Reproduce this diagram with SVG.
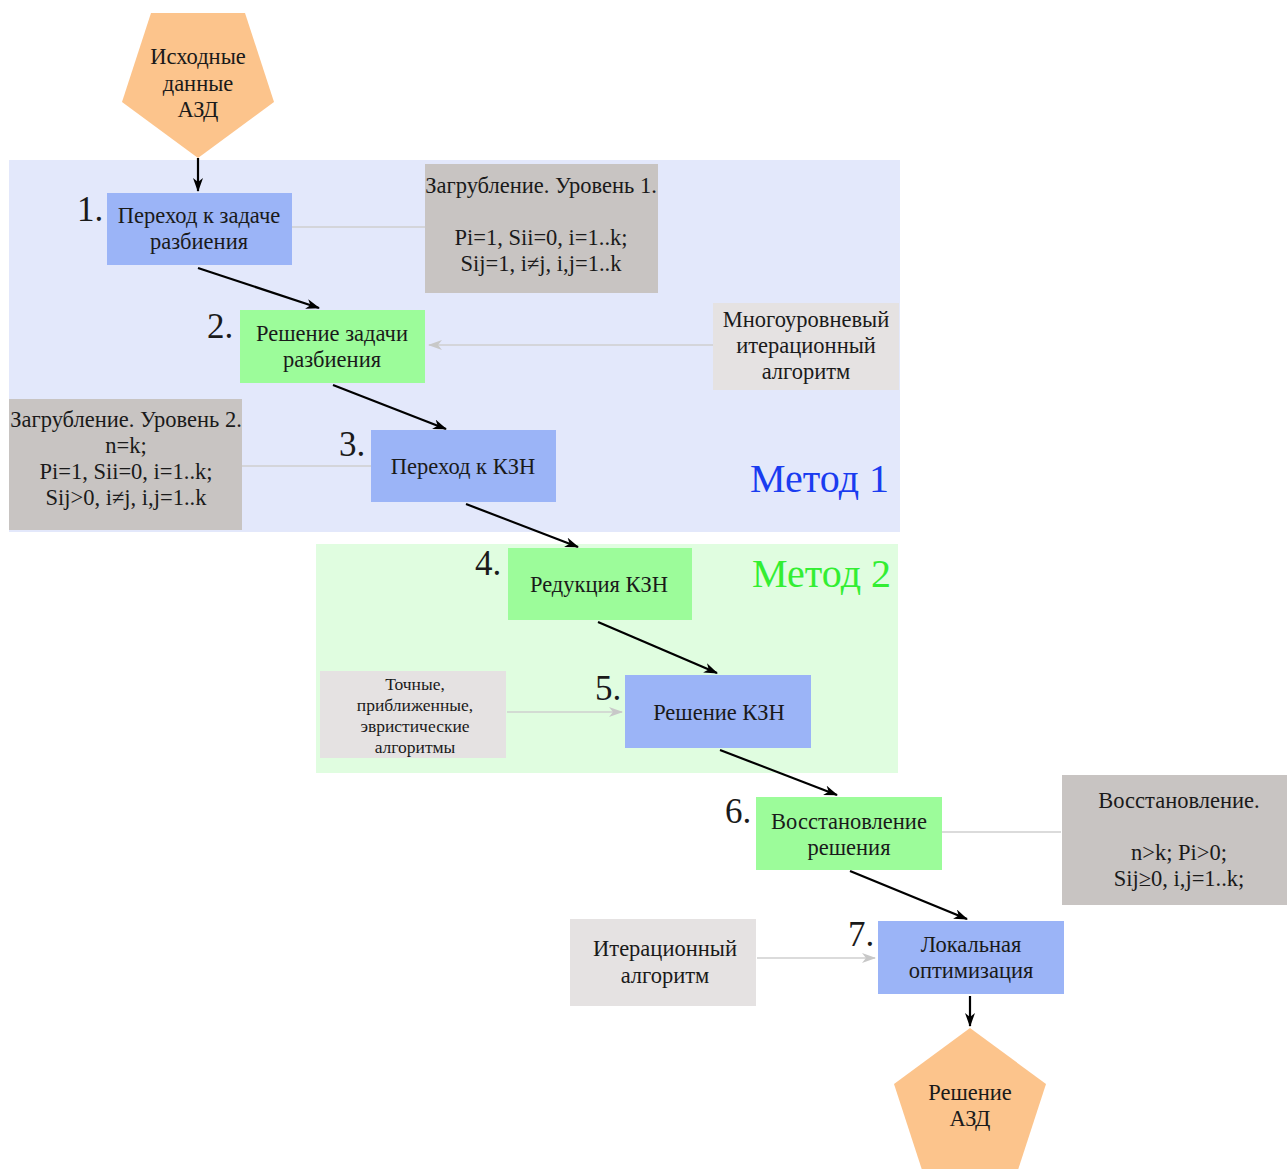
<svg xmlns="http://www.w3.org/2000/svg" width="1287" height="1169" viewBox="0 0 1287 1169">
<defs>
<marker id="ab" viewBox="0 0 14 10" refX="13" refY="5" markerWidth="14" markerHeight="10" markerUnits="userSpaceOnUse" orient="auto"><path d="M0,0 L14,5 L0,10 L4,5 Z" fill="#000"/></marker>
<marker id="ag" viewBox="0 0 14 10" refX="13" refY="5" markerWidth="14" markerHeight="10" markerUnits="userSpaceOnUse" orient="auto"><path d="M0,0 L14,5 L0,10 L4,5 Z" fill="#c8c8c8"/></marker>
<style>
text{font-family:"Liberation Serif","Times New Roman",serif;fill:#1a1a1a;text-anchor:middle}
.t{font-size:22.5px}
.s{font-size:17.5px}
.n{font-size:35px;text-anchor:start}
.blue{fill:#9bb4f7}
.green{fill:#9cfc9a}
.dg{fill:#c8c4c2}
.lg{fill:#e5e2e2}
.pent{fill:#fcc48c}
.fl{stroke:#000;stroke-width:2.2;fill:none;marker-end:url(#ab)}
.gl{stroke:#cfcfcf;stroke-width:1.6;fill:none}
.ga{stroke:#cfcfcf;stroke-width:1.6;fill:none;marker-end:url(#ag)}
</style>
</defs>
<rect width="1287" height="1169" fill="#fff"/>
<g id="method1">
<rect x="9" y="160" width="891" height="372" fill="#e3e8fb"/>
<text x="889" y="492" style="font-size:40px;text-anchor:end;fill:#1a3cf0">Метод 1</text>
</g>
<g id="method2">
<rect x="316" y="544" width="582" height="229" fill="#e0fde0"/>
<text x="891" y="587" style="font-size:40px;text-anchor:end;fill:#33ee33">Метод 2</text>
</g>
<g id="connectors">
<line class="gl" x1="292" y1="227" x2="425" y2="227"/>
<line class="ga" x1="713" y1="345" x2="429" y2="345"/>
<line class="gl" x1="242" y1="466" x2="371" y2="466"/>
<line class="ga" x1="507" y1="712" x2="622" y2="712"/>
<line class="gl" x1="942" y1="832" x2="1061" y2="832"/>
<line class="ga" x1="757" y1="958" x2="875" y2="958"/>
<line class="fl" x1="198" y1="158" x2="198" y2="191"/>
<line class="fl" x1="198" y1="268" x2="319" y2="308"/>
<line class="fl" x1="333" y1="385" x2="446" y2="429"/>
<line class="fl" x1="466" y1="504" x2="578" y2="547"/>
<line class="fl" x1="598" y1="622" x2="717" y2="673"/>
<line class="fl" x1="720" y1="750" x2="837" y2="795"/>
<line class="fl" x1="850" y1="871" x2="967" y2="919"/>
<line class="fl" x1="970" y1="996" x2="970" y2="1026"/>
</g>
<g id="start">
<polygon class="pent" points="151,13 245,13 274,102 198,158 122,102"/>
<text class="t" x="198" y="64">Исходные</text>
<text class="t" x="198" y="91">данные</text>
<text class="t" x="198" y="117">АЗД</text>
</g>
<g id="step1">
<rect class="blue" x="107" y="193" width="185" height="72"/>
<text class="n" x="77" y="221">1.</text>
<text class="t" x="199" y="223">Переход к задаче</text>
<text class="t" x="199" y="249">разбиения</text>
</g>
<g id="note1">
<rect class="dg" x="425" y="164" width="233" height="129"/>
<text class="t" x="541" y="193">Загрубление. Уровень 1.</text>
<text class="t" x="541" y="245">Pi=1, Sii=0, i=1..k;</text>
<text class="t" x="541" y="271">Sij=1, i≠j, i,j=1..k</text>
</g>
<g id="step2">
<rect class="green" x="240" y="310" width="185" height="73"/>
<text class="n" x="207" y="338">2.</text>
<text class="t" x="332" y="341">Решение задачи</text>
<text class="t" x="332" y="367">разбиения</text>
</g>
<g id="note2">
<rect class="lg" x="713" y="303" width="186" height="87"/>
<text class="t" x="806" y="327">Многоуровневый</text>
<text class="t" x="806" y="353">итерационный</text>
<text class="t" x="806" y="379">алгоритм</text>
</g>
<g id="step3">
<rect class="blue" x="371" y="430" width="185" height="72"/>
<text class="n" x="339" y="456">3.</text>
<text class="t" x="463" y="474">Переход к КЗН</text>
</g>
<g id="note3">
<rect class="dg" x="9" y="399" width="233" height="131"/>
<text class="t" x="126" y="427">Загрубление. Уровень 2.</text>
<text class="t" x="126" y="453">n=k;</text>
<text class="t" x="126" y="479">Pi=1, Sii=0, i=1..k;</text>
<text class="t" x="126" y="505">Sij&gt;0, i≠j, i,j=1..k</text>
</g>
<g id="step4">
<rect class="green" x="508" y="548" width="184" height="72"/>
<text class="n" x="475" y="575">4.</text>
<text class="t" x="599" y="592">Редукция КЗН</text>
</g>
<g id="step5">
<rect class="blue" x="625" y="675" width="186" height="73"/>
<text class="n" x="595" y="700">5.</text>
<text class="t" x="719" y="720">Решение КЗН</text>
</g>
<g id="note5">
<rect class="lg" x="320" y="671" width="186" height="87"/>
<text class="s" x="415" y="690">Точные,</text>
<text class="s" x="415" y="711">приближенные,</text>
<text class="s" x="415" y="732">эвристические</text>
<text class="s" x="415" y="753">алгоритмы</text>
</g>
<g id="step6">
<rect class="green" x="756" y="797" width="186" height="73"/>
<text class="n" x="725" y="823">6.</text>
<text class="t" x="849" y="829">Восстановление</text>
<text class="t" x="849" y="855">решения</text>
</g>
<g id="note6">
<rect class="dg" x="1062" y="775" width="225" height="130"/>
<text class="t" x="1179" y="808">Восстановление.</text>
<text class="t" x="1179" y="860">n&gt;k; Pi&gt;0;</text>
<text class="t" x="1179" y="886">Sij≥0, i,j=1..k;</text>
</g>
<g id="step7">
<rect class="blue" x="878" y="921" width="186" height="73"/>
<text class="n" x="848" y="946">7.</text>
<text class="t" x="971" y="952">Локальная</text>
<text class="t" x="971" y="978">оптимизация</text>
</g>
<g id="note7">
<rect class="lg" x="570" y="919" width="186" height="87"/>
<text class="t" x="665" y="956">Итерационный</text>
<text class="t" x="665" y="983">алгоритм</text>
</g>
<g id="end">
<polygon class="pent" points="970,1028 1046,1084 1017,1173 923,1173 894,1084"/>
<text class="t" x="970" y="1100">Решение</text>
<text class="t" x="970" y="1126">АЗД</text>
</g>
</svg>
